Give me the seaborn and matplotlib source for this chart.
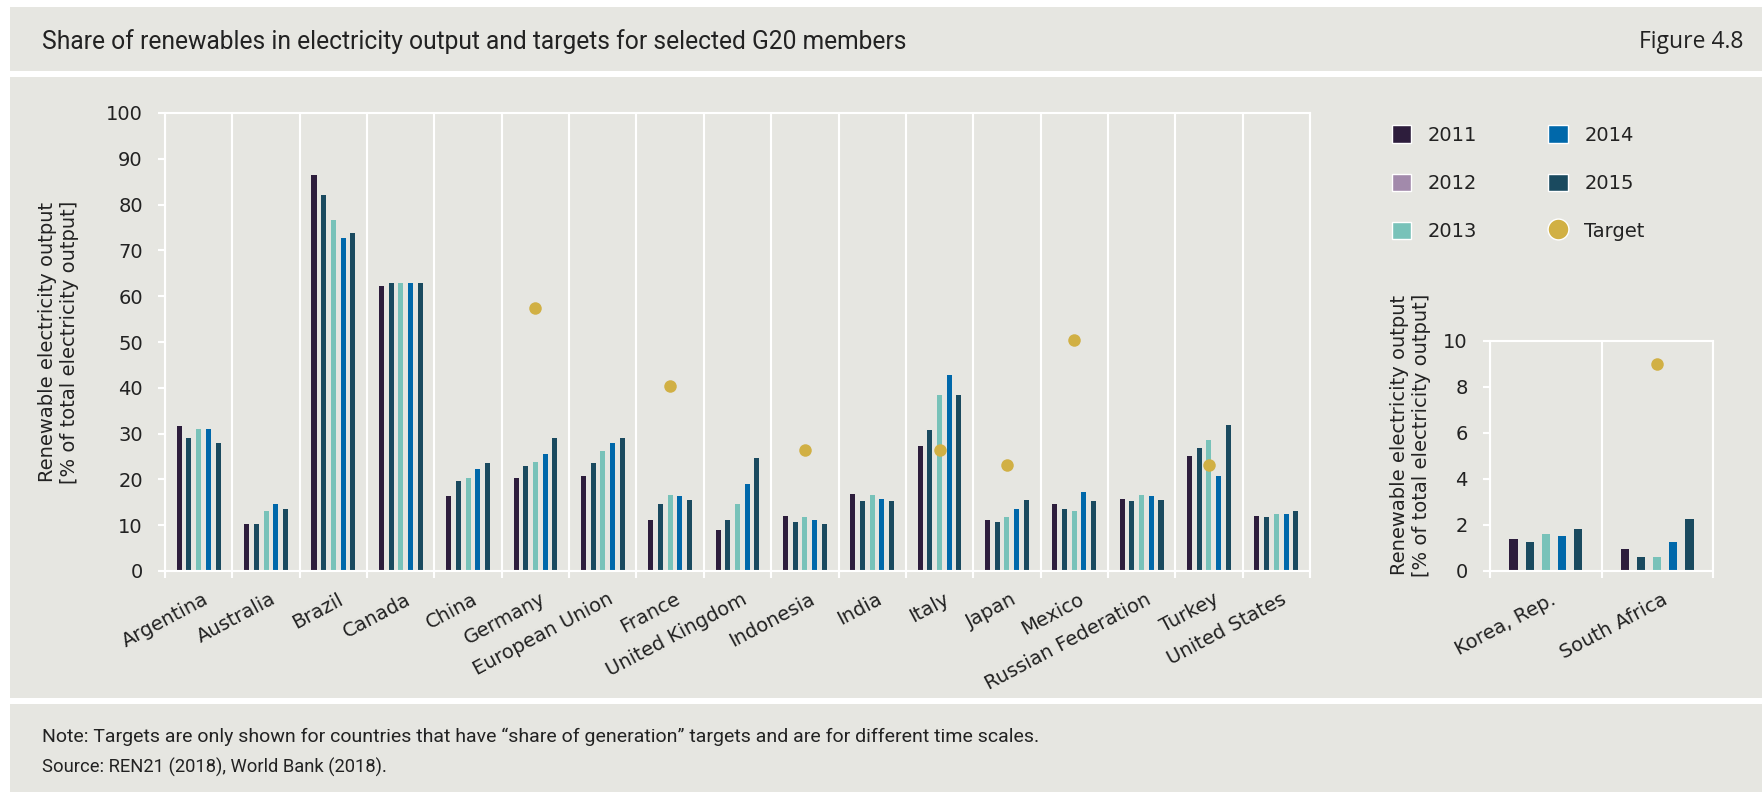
import numpy as np
import pandas as pd
import seaborn as sns
import matplotlib.pyplot as plt
import matplotlib.transforms as mtransforms
from matplotlib.patches import Patch, Rectangle
from matplotlib.lines import Line2D

plt.rcParams['font.family'] = ['DejaVu Sans']

# Data
countries = ["Argentina", "Australia", "Brazil", "Canada", "China", "Germany",
             "European Union", "France", "United Kingdom", "Indonesia", "India",
             "Italy", "Japan", "Mexico", "Russian Federation", "Turkey", "United States"]
years = ["2011", "2012", "2013", "2014", "2015"]

share_2011 = [31.7, 10.2, 86.5, 62.2, 16.3, 20.2, 20.7, 11.2, 9.0, 11.9, 16.8, 27.4, 11.2, 14.6, 15.7, 25.2, 11.9]
share_2012 = [29.0, 10.2, 82.0, 62.8, 19.6, 22.9, 23.5, 14.6, 11.2, 10.6, 15.2, 30.7, 10.6, 13.5, 15.2, 26.8, 11.7]
share_2013 = [31.1, 13.0, 76.6, 62.8, 20.2, 23.9, 26.1, 16.7, 14.6, 11.7, 16.7, 38.4, 11.7, 13.0, 16.7, 28.5, 12.4]
share_2014 = [31.1, 14.6, 72.7, 62.8, 22.3, 25.6, 27.9, 16.3, 19.1, 11.2, 15.7, 42.9, 13.5, 17.3, 16.3, 20.7, 12.4]
share_2015 = [27.9, 13.5, 73.7, 62.8, 23.5, 29.0, 29.0, 15.6, 24.6, 10.2, 15.2, 38.4, 15.6, 15.2, 15.6, 31.8, 13.0]
targets = [np.nan, np.nan, np.nan, np.nan, np.nan, 57.5, np.nan, 40.3, np.nan, 26.5,
           np.nan, 26.5, 23.2, 50.4, np.nan, 23.2, np.nan]

small_countries = ["Korea, Rep.", "South Africa"]
small_2011 = [1.40, 0.96]
small_2012 = [1.28, 0.62]
small_2013 = [1.61, 0.62]
small_2014 = [1.53, 1.27]
small_2015 = [1.83, 2.26]
small_targets = [np.nan, 8.99]

bar_colors = ["#2d1d3c", "#1a4a5f", "#78c2b9", "#0068aa", "#1a4a5f"]
legend_colors = ["#2d1d3c", "#a28aab", "#78c2b9", "#0068aa", "#1a4a5f"]
gold = "#d1b044"
bg = "#e6e6e1"
txt = "#222222"
head_font = ["Roboto", "DejaVu Sans"]


def long_frame(names, cols, tgts):
    wide = pd.DataFrame(dict(zip(years, cols)), index=names)
    wide.index.name = "country"
    df = wide.reset_index().melt(id_vars="country", var_name="year", value_name="share")
    t = pd.DataFrame({"country": names, "target": tgts})
    return df, t


df_main, tgt_main = long_frame(countries, [share_2011, share_2012, share_2013, share_2014, share_2015], targets)
df_small, tgt_small = long_frame(small_countries, [small_2011, small_2012, small_2013, small_2014, small_2015], small_targets)

W, H = 1762, 792
fig = plt.figure(figsize=(W / 100, H / 100), dpi=100)
fig.patch.set_facecolor("white")
for y0, y1 in [(7, 71), (77, 698), (704, 792)]:
    fig.add_artist(Rectangle((10 / W, 1 - y1 / H), 1 - 10 / W, (y1 - y0) / H,
                             transform=fig.transFigure, facecolor=bg, edgecolor="none", zorder=-10))

ax = fig.add_axes([165 / W, 1 - 571 / H, (1310 - 165) / W, (571 - 113) / H])
ax2 = fig.add_axes([1490 / W, 1 - 571 / H, (1713 - 1490) / W, (571 - 341) / H])

label_shift = mtransforms.ScaledTranslation(4 / 100, 0, fig.dpi_scale_trans)


def draw(a, df, t, names, ymax, step, fs):
    sns.barplot(data=df, x="country", y="share", hue="year", order=names, hue_order=years,
                palette=bar_colors, saturation=1, width=0.72, gap=0.48, linewidth=0,
                errorbar=None, legend=False, ax=a)
    sns.stripplot(data=t, x="country", y="target", order=names, jitter=False, color=gold,
                  size=9, linewidth=0, zorder=4, ax=a)
    n = len(names)
    a.set_facecolor("none")
    a.set_xlim(-0.5, n - 0.5)
    a.set_ylim(0, ymax)
    a.set_xlabel("")
    for s in a.spines.values():
        s.set_color("white")
        s.set_linewidth(1.5)
    a.set_yticks(np.arange(0, ymax + 1, step))
    a.tick_params(axis="y", colors="white", length=5, width=1.5, labelcolor=txt,
                  labelsize=fs, pad=11)
    a.set_xticks(range(n))
    a.set_xticklabels(names)
    a.set_xticks(np.arange(-0.5, n), minor=True)
    a.tick_params(axis="x", which="major", length=0, pad=13.5, labelsize=fs, labelcolor=txt)
    a.tick_params(axis="x", which="minor", length=5, width=1.5, color="white")
    a.grid(False)
    a.xaxis.grid(True, which="minor", color="white", linewidth=1.5)
    for lbl in a.get_xticklabels():
        lbl.set_rotation(28)
        lbl.set_ha("right")
        lbl.set_rotation_mode("anchor")
        lbl.set_transform(lbl.get_transform() + label_shift)
    a.set_ylabel("Renewable electricity output\n[% of total electricity output]",
                 fontsize=14, color=txt, linespacing=1.2)


draw(ax, df_main, tgt_main, countries, 100, 10, 14)
draw(ax2, df_small, tgt_small, small_countries, 10, 2, 14)
ax.yaxis.set_label_coords(-0.075, 0.5)
ax2.yaxis.set_label_coords(-0.265, 0.59)

# legend
handles = [Patch(facecolor=c, edgecolor="white", linewidth=1) for c in legend_colors]
handles.append(Line2D([], [], marker="o", linestyle="none", markersize=15,
                      markerfacecolor=gold, markeredgecolor="white", markeredgewidth=1))
fig.legend(handles, years + ["Target"], loc="upper left", bbox_to_anchor=(1392 / W, 1 - 125.5 / H),
           ncol=2, frameon=False, fontsize=14, handlelength=1.0, handleheight=1.0,
           labelspacing=1.48, columnspacing=3.65, handletextpad=0.85, borderpad=0,
           borderaxespad=0, labelcolor=txt)

fig.text(42 / W, 1 - 41.5 / H, "Share of renewables in electricity output and targets for selected G20 members",
         fontsize=17.7, color=txt, va="center", family=head_font)
fig.text(1743 / W, 1 - 41.5 / H, "Figure 4.8", fontsize=16.5, color=txt, va="center", ha="right",
         family=["Open Sans", "DejaVu Sans"])
fig.text(42 / W, 1 - 737 / H,
         "Note: Targets are only shown for countries that have \u201cshare of generation\u201d targets and are for different time scales.",
         fontsize=14, color=txt, va="center", family=head_font)
fig.text(42 / W, 1 - 767 / H, "Source: REN21 (2018), World Bank (2018).",
         fontsize=13.2, color=txt, va="center", family=head_font)

fig.savefig("out.png", dpi=100, facecolor=fig.get_facecolor())
